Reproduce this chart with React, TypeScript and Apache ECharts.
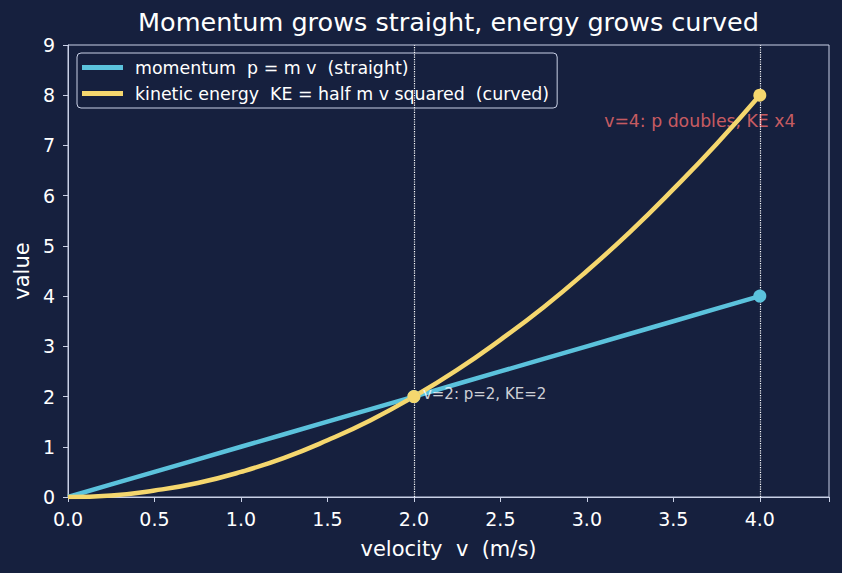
import React, { useEffect, useRef } from "react";
import * as echarts from "echarts";

const velocity = [0, 0.25, 0.5, 0.75, 1, 1.25, 1.5, 1.75, 2, 2.25, 2.5, 2.75, 3, 3.25, 3.5, 3.75, 4];
const momentum = [0, 0.25, 0.5, 0.75, 1, 1.25, 1.5, 1.75, 2, 2.25, 2.5, 2.75, 3, 3.25, 3.5, 3.75, 4];
const kinetic = [0, 0.03, 0.13, 0.28, 0.5, 0.78, 1.13, 1.53, 2, 2.53, 3.13, 3.78, 4.5, 5.28, 6.13, 7.03, 8];
const momentumMarks = [[2, 2], [4, 4]];
const kineticMarks = [[2, 2], [4, 8]];
const guideLines = [2, 4];
const note2 = { v: 2, y: 2, text: "v=2: p=2, KE=2" };
const note4 = { v: 3.1, y: 7.49, text: "v=4: p doubles, KE x4" };

const BG = "#16203e";
const AX = "#c9d0e6";
const CYAN = "#5bc2dc";
const YELLOW = "#f5d76e";
const RED = "#f76c6c";
const FONT = "DejaVu Sans";

export default function App() {
  const ref = useRef<HTMLDivElement>(null);
  useEffect(() => {
    const chart = echarts.init(ref.current!, null, { renderer: "svg" });
    chart.setOption({
      animation: false,
      backgroundColor: BG,
      textStyle: { fontFamily: FONT },
      title: {
        text: "Momentum grows straight, energy grows curved",
        left: 448.5,
        textAlign: "center",
        top: 9,
        padding: 0,
        textStyle: { color: "#ffffff", fontSize: 25.5, fontWeight: "normal", fontFamily: FONT },
      },
      legend: {
        orient: "vertical",
        left: 77,
        top: 53,
        padding: [6, 8, 6, 5],
        itemGap: 9,
        itemWidth: 41,
        itemHeight: 5,
        borderColor: AX,
        borderWidth: 1,
        borderRadius: 4,
        backgroundColor: BG,
        textStyle: { color: "#ffffff", fontSize: 17.4, fontFamily: FONT, padding: [0, 0, 0, 7] },
        data: [
          { name: "momentum  p = m v  (straight)", icon: "rect" },
          { name: "kinetic energy  KE = half m v squared  (curved)", icon: "rect" },
        ],
      },
      grid: {
        left: 68,
        right: 13,
        top: 45,
        bottom: 76,
        show: true,
        borderColor: AX,
        borderWidth: 1,
        backgroundColor: "transparent",
      },
      xAxis: {
        type: "value",
        min: 0,
        max: 4.4,
        interval: 0.5,
        name: "velocity  v  (m/s)",
        nameLocation: "middle",
        nameGap: 41,
        nameTextStyle: { color: "#ffffff", fontSize: 21, fontFamily: FONT },
        axisLine: { show: true, lineStyle: { color: AX, width: 1 } },
        axisTick: { show: true, length: 5, lineStyle: { color: AX } },
        axisLabel: {
          color: "#ffffff",
          fontSize: 19,
          margin: 12,
          fontFamily: FONT,
          formatter: (v: number) => (v > 4.2 ? "" : v.toFixed(1)),
        },
        splitLine: { show: false },
      },
      yAxis: {
        type: "value",
        min: 0,
        max: 9,
        interval: 1,
        name: "value",
        nameLocation: "middle",
        nameGap: 36,
        nameTextStyle: { color: "#ffffff", fontSize: 21, fontFamily: FONT },
        axisLine: { show: true, lineStyle: { color: AX, width: 1 } },
        axisTick: { show: true, length: 5, lineStyle: { color: AX } },
        axisLabel: { color: "#ffffff", fontSize: 19, margin: 13, fontFamily: FONT },
        splitLine: { show: false },
      },
      series: [
        {
          type: "scatter",
          data: [[note4.v, note4.y]],
          symbolSize: 0,
          z: 1,
          silent: true,
          label: {
            show: true,
            position: "right",
            distance: 0,
            formatter: note4.text,
            color: RED,
            fontSize: 17.3,
            fontFamily: FONT,
          },
        },
        {
          name: "momentum  p = m v  (straight)",
          type: "line",
          data: velocity.map((v, i) => [v, momentum[i]]),
          showSymbol: false,
          symbol: "none",
          itemStyle: { color: CYAN },
          lineStyle: { color: CYAN, width: 4.5 },
          z: 3,
          markLine: {
            silent: true,
            symbol: "none",
            label: { show: false },
            lineStyle: { color: "#ffffff", type: "dotted", width: 1.2 },
            data: guideLines.map((x) => ({ xAxis: x })),
          },
        },
        {
          name: "kinetic energy  KE = half m v squared  (curved)",
          type: "line",
          data: velocity.map((v, i) => [v, kinetic[i]]),
          smooth: true,
          showSymbol: false,
          symbol: "none",
          itemStyle: { color: YELLOW },
          lineStyle: { color: YELLOW, width: 4.5 },
          z: 4,
        },
        {
          type: "scatter",
          data: momentumMarks,
          symbolSize: 13,
          itemStyle: { color: CYAN, opacity: 1 },
          z: 5,
        },
        {
          type: "scatter",
          data: kineticMarks,
          symbolSize: 13,
          itemStyle: { color: YELLOW, opacity: 1 },
          z: 6,
        },
        {
          type: "scatter",
          data: [[note2.v, note2.y]],
          symbolSize: 0,
          z: 7,
          silent: true,
          label: {
            show: true,
            position: "right",
            distance: 9,
            offset: [0, -3],
            formatter: note2.text,
            color: "#ffffff",
            fontSize: 15,
            fontFamily: FONT,
          },
        },
      ],
    });
    return () => chart.dispose();
  }, []);
  return <div ref={ref} style={{ width: 842, height: 573, position: "fixed", left: 0, top: 0 }} />;
}
